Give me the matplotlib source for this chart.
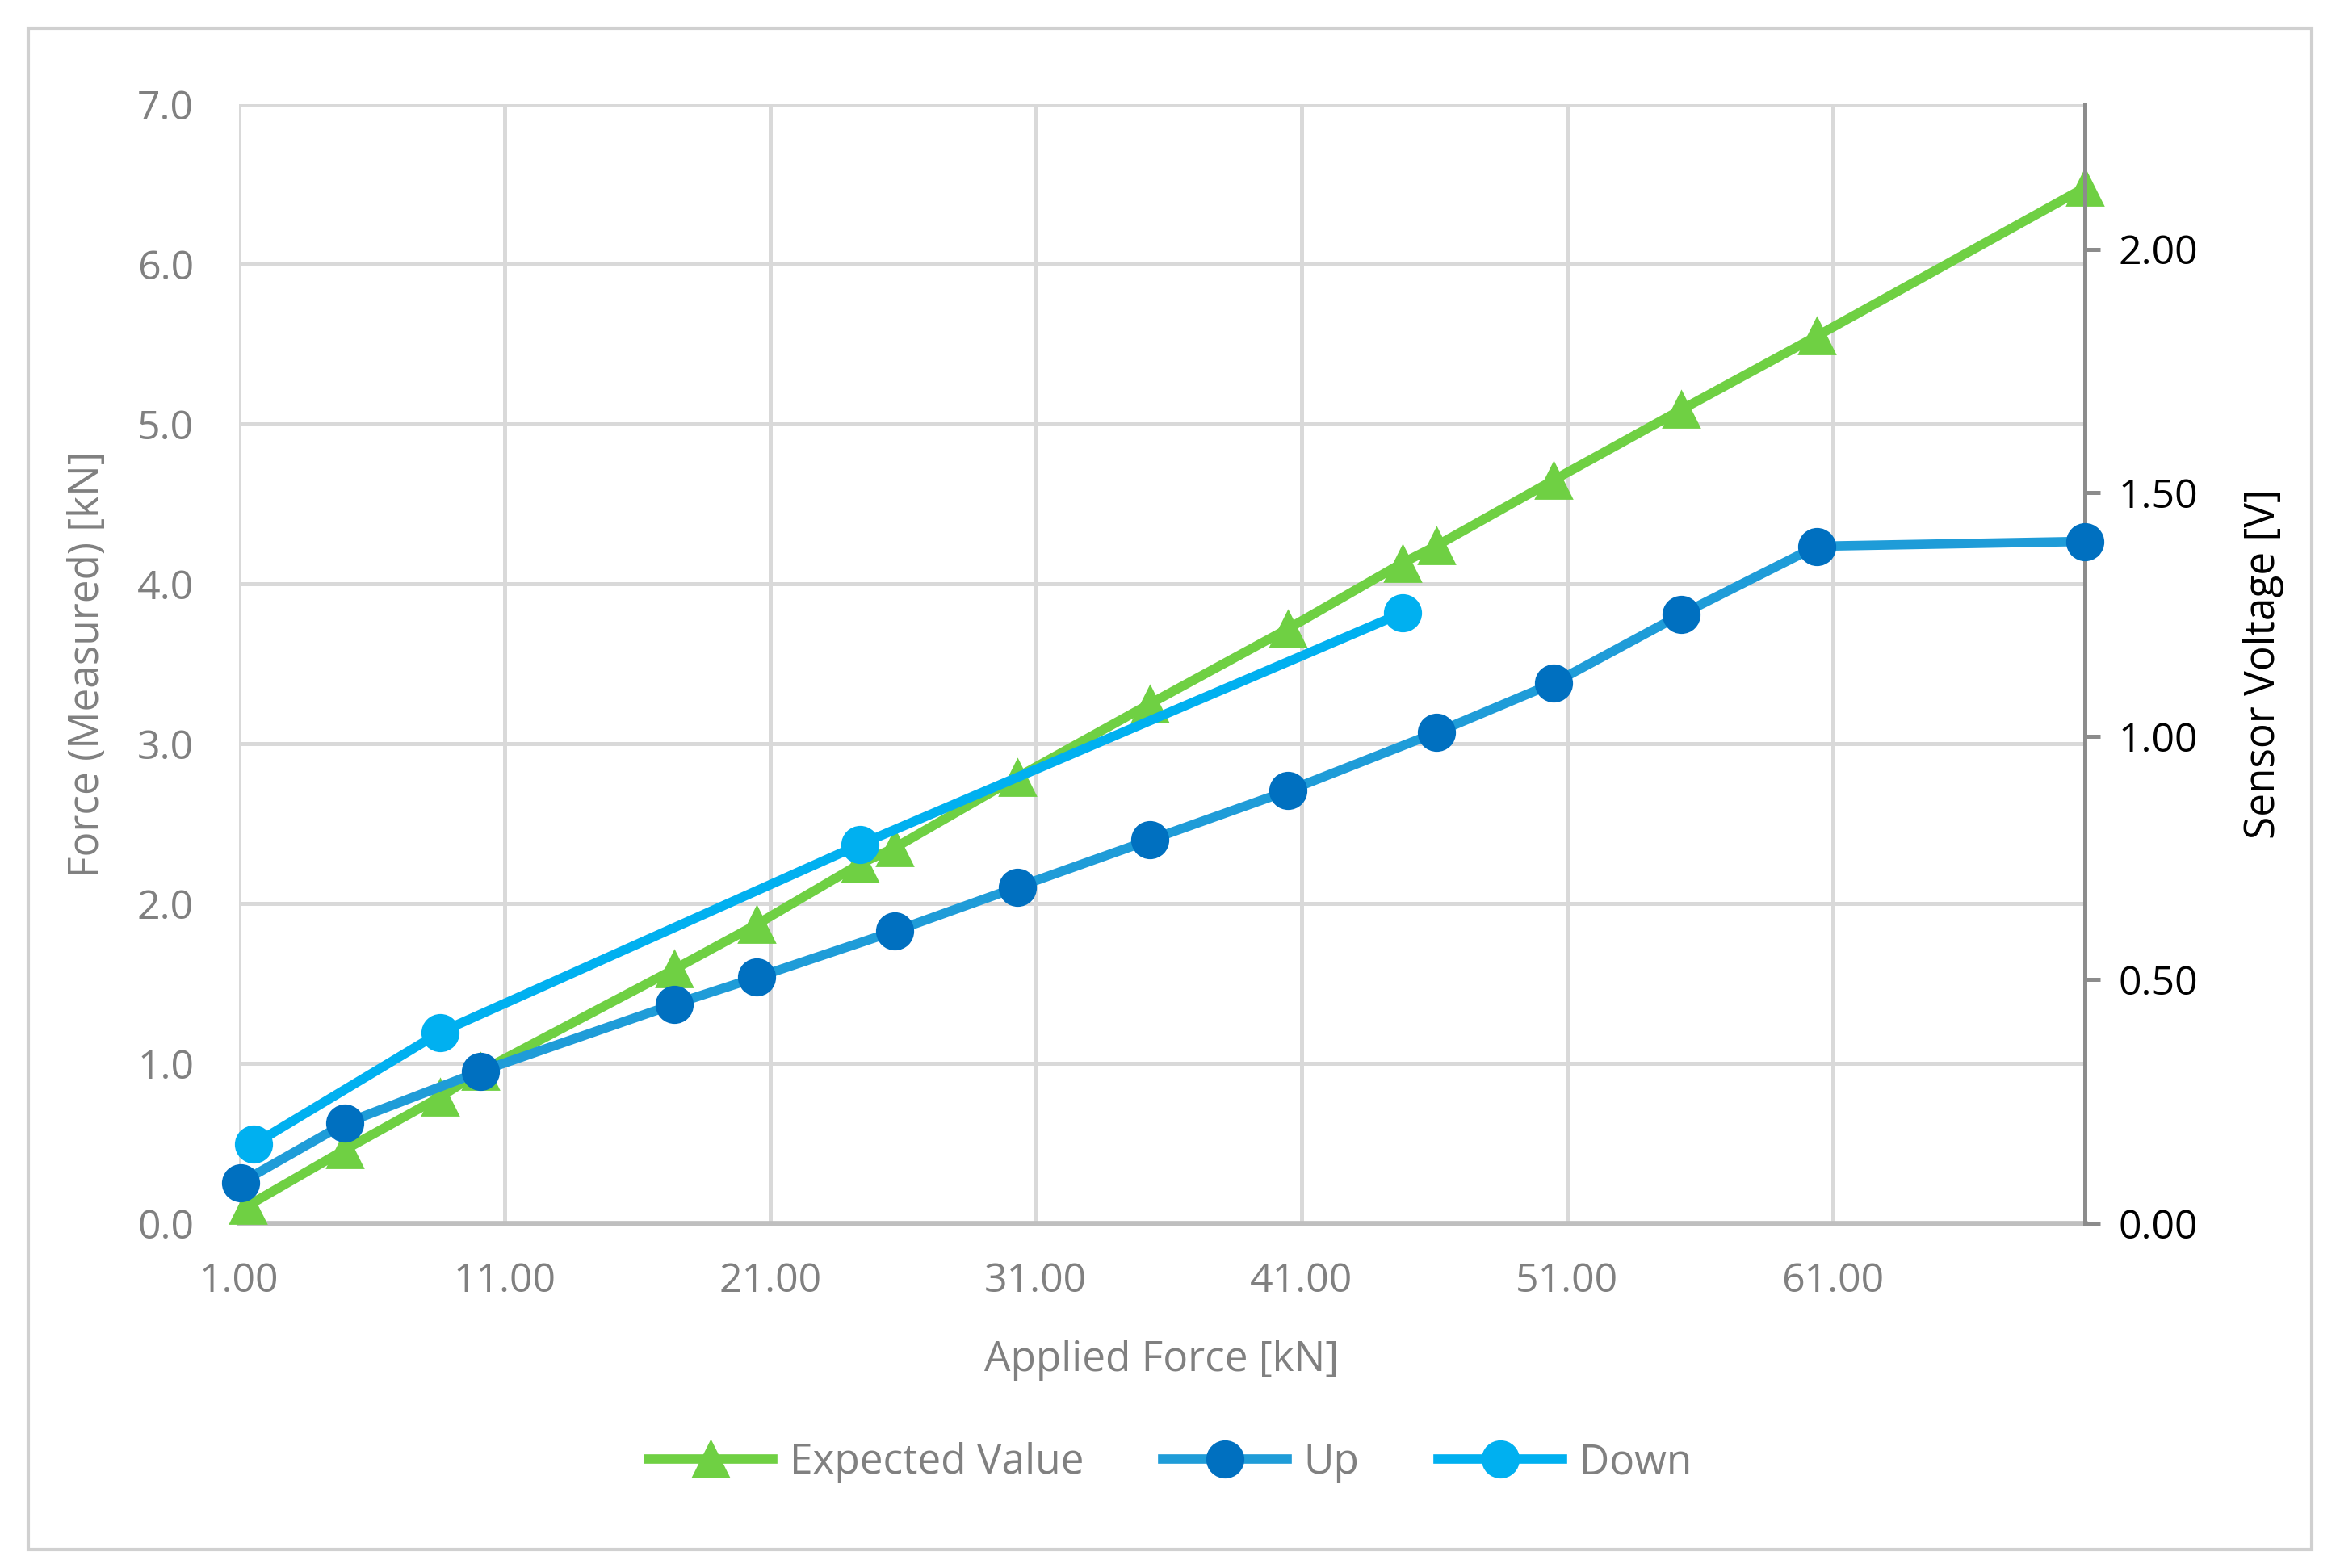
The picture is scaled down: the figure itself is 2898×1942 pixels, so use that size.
import matplotlib
matplotlib.use("Agg")
import matplotlib.pyplot as plt
from matplotlib.patches import Rectangle

plt.rcParams["font.family"] = ["Open Sans", "DejaVu Sans"]

# Expected value (left axis, kN)
exp_x = [1.34, 4.99, 8.58, 10.1, 17.4, 20.5, 24.4, 25.7, 30.3, 35.3, 40.5,
         44.8, 46.1, 50.5, 55.3, 60.4, 70.5]
exp_y = [0.11, 0.46, 0.79, 0.95, 1.59, 1.87, 2.25, 2.35, 2.79, 3.25, 3.72,
         4.13, 4.24, 4.65, 5.09, 5.55, 6.48]

# Up / Down sweeps (right axis, V)
up_x = [1.06, 4.99, 10.1, 17.4, 20.5, 25.7, 30.3, 35.3, 40.5, 46.1, 50.5,
        55.3, 60.4, 70.5]
up_v = [0.083, 0.205, 0.312, 0.45, 0.505, 0.60, 0.69, 0.787, 0.888, 1.008,
        1.109, 1.25, 1.39, 1.40]
down_x = [1.56, 8.58, 24.4, 44.8]
down_v = [0.162, 0.392, 0.778, 1.253]

x_ticks = [1, 11, 21, 31, 41, 51, 61]
left_ticks = [0, 1, 2, 3, 4, 5, 6, 7]
right_ticks = [0.0, 0.5, 1.0, 1.5, 2.0]

GREEN = "#6FD043"
UP_LINE = "#1F9CD8"
UP_MARK = "#0070C0"
DOWN = "#00B0F0"
GRID = "#D9D9D9"
TXT = "#808080"
FS = 18

fig = plt.figure(figsize=(14.49, 9.71), dpi=200)
fig.patches.append(Rectangle((0.012, 0.012), 0.976, 0.97, transform=fig.transFigure,
                             fill=False, edgecolor="#D0D0D0", lw=1.5))
ax = fig.add_axes([0.102, 0.2198, 0.789, 0.7136])
ax2 = ax.twinx()

ax.plot(exp_x, exp_y, "-^", color=GREEN, lw=4.2, ms=16, label="Expected Value",
        zorder=3, clip_on=False)
ax2.plot(up_x, up_v, "-o", color=UP_LINE, mfc=UP_MARK, mec=UP_MARK,
         lw=4.2, ms=16, label="Up", zorder=3, clip_on=False)
ax2.plot(down_x, down_v, "-o", color=DOWN, lw=4.2, ms=16, label="Down",
         zorder=4, clip_on=False)

ax.set_xlim(1, 70.5)
ax.set_ylim(0, 7)
ax2.set_ylim(0, 2.297)

ax.set_xticks(x_ticks)
ax.set_xticklabels([f"{v:.2f}" for v in x_ticks])
ax.set_yticks(left_ticks)
ax.set_yticklabels([f"{v:.1f}" for v in left_ticks])
ax2.set_yticks(right_ticks)
ax2.set_yticklabels([f"{v:.2f}" for v in right_ticks])

ax.grid(True, color=GRID, lw=1.8, zorder=0)
ax.set_axisbelow(True)
for s in ["top", "left", "right"]:
    ax.spines[s].set_visible(False)
ax.spines["bottom"].set_color("#BFBFBF")
ax.spines["bottom"].set_linewidth(2.4)
for s in ["top", "left", "bottom"]:
    ax2.spines[s].set_visible(False)
ax2.spines["right"].set_color("#8C8C8C")
ax2.spines["right"].set_linewidth(1.8)

ax.tick_params(axis="x", length=0, labelsize=FS, colors=TXT, pad=17)
ax.tick_params(axis="y", length=0, labelsize=FS, colors=TXT, pad=20)
ax2.tick_params(axis="y", length=7, width=1.8, color="#8C8C8C", labelsize=FS,
                labelcolor="black", pad=8, direction="out")

ax.set_xlabel("Applied Force [kN]", fontsize=FS + 0.5, color=TXT, labelpad=17)
ax.set_ylabel("Force (Measured) [kN]", fontsize=FS + 0.5, color=TXT, labelpad=13)
ax2.set_ylabel("Sensor Voltage [V]", fontsize=FS + 0.5, color="black", labelpad=20)

h1, lab1 = ax.get_legend_handles_labels()
h2, lab2 = ax2.get_legend_handles_labels()
leg = fig.legend(h1 + h2, lab1 + lab2, loc="center", bbox_to_anchor=(0.5, 0.067),
                 ncol=3, frameon=False, fontsize=FS + 0.5, handlelength=3.0,
                 columnspacing=1.9, handletextpad=0.4)
for t in leg.get_texts():
    t.set_color(TXT)

fig.savefig("out.png", dpi=200)
